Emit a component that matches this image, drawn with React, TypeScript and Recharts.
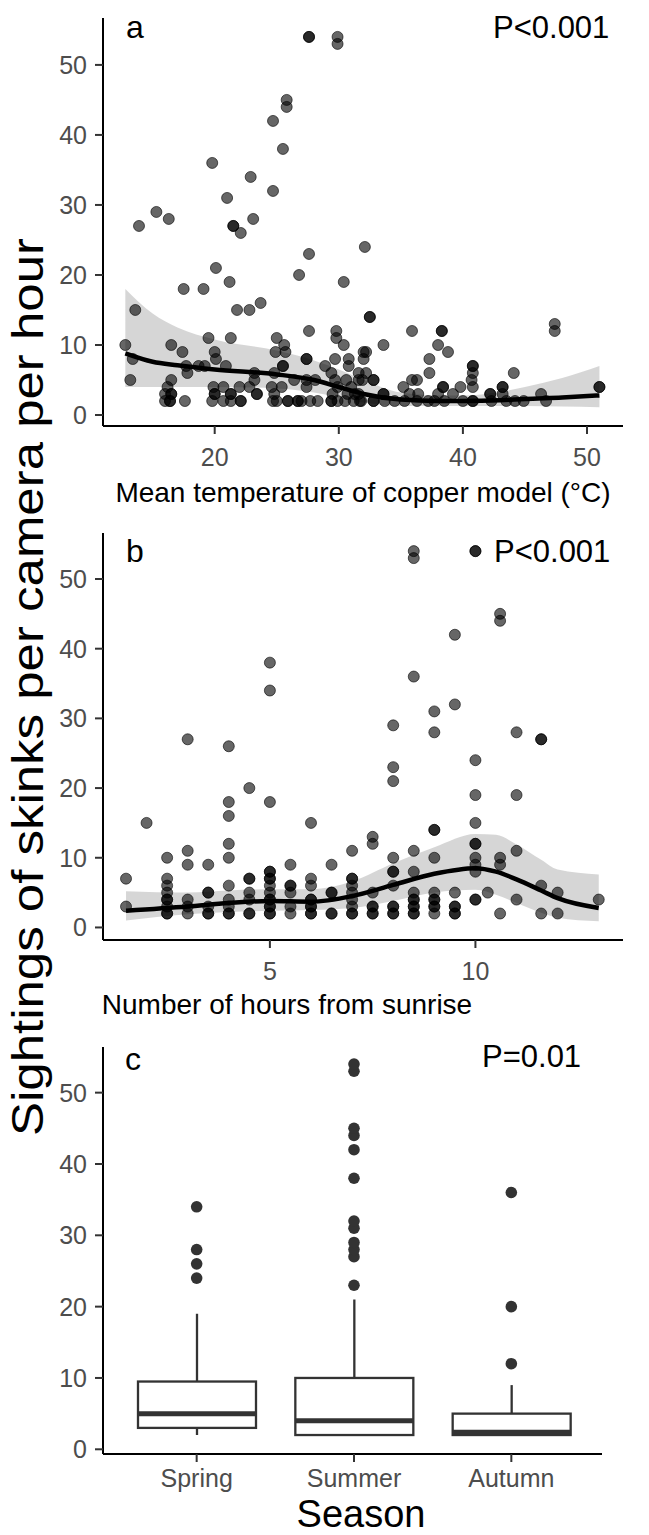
import * as React from "react"
import { ComposedChart, Scatter, Line, Area, Bar, XAxis, YAxis } from "recharts"

const FONT = "'Liberation Sans', Arial, Helvetica, sans-serif"

// panel a: sightings against copper model temperature
const tempPoints: [number, number][] = [
  [27.6, 54], [27.6, 54], [29.9, 54], [29.9, 53], [25.8, 45], [25.8, 44], [24.7, 42], [25.5, 38],
  [19.8, 36], [22.9, 34], [24.7, 32], [21.0, 31], [15.3, 29], [16.3, 28], [23.1, 28], [13.9, 27],
  [21.5, 27], [21.5, 27], [22.1, 26], [32.1, 24], [27.6, 23], [20.1, 21], [26.8, 20], [30.4, 19],
  [21.2, 19], [17.5, 18], [19.1, 18], [23.7, 16], [13.6, 15], [21.8, 15], [22.8, 15], [32.5, 14],
  [32.5, 14], [47.4, 13], [47.4, 12], [35.9, 12], [38.3, 12], [38.3, 12], [27.6, 12], [29.8, 12],
  [19.5, 11], [21.3, 11], [25.0, 11], [29.8, 11],
  [12.8, 10], [16.5, 10], [25.6, 10], [30.4, 10], [33.6, 10], [38.0, 10],
  [17.4, 9], [20.0, 9], [24.9, 9], [25.7, 9], [32.0, 9], [32.2, 9], [38.8, 9],
  [13.4, 8], [20.1, 8], [27.4, 8], [27.4, 8], [29.7, 8], [30.8, 8], [32.0, 8], [37.3, 8],
  [17.7, 7], [18.7, 7], [19.2, 7], [20.9, 7], [25.5, 7], [25.5, 7], [28.9, 7], [30.8, 7], [40.8, 7], [40.8, 7],
  [17.8, 6], [23.2, 6], [24.8, 6], [29.4, 6], [31.6, 6], [32.2, 6], [37.3, 6], [40.8, 6], [44.1, 6],
  [13.2, 5], [16.5, 5], [23.2, 5], [26.4, 5], [27.4, 5], [28.1, 5], [29.7, 5], [30.6, 5], [31.6, 5],
  [31.9, 5], [32.8, 5], [32.8, 5], [35.9, 5], [36.3, 5], [40.7, 5],
  [16.2, 4], [19.9, 4], [20.7, 4], [22.0, 4], [22.8, 4], [24.6, 4], [25.4, 4], [27.4, 4], [29.9, 4],
  [31.0, 4], [35.2, 4], [38.4, 4], [38.4, 4], [39.8, 4], [40.8, 4], [43.2, 4], [43.2, 4], [51.0, 4], [51.0, 4],
  [16.0, 3], [16.5, 3], [16.5, 3], [20.0, 3], [20.0, 3], [21.3, 3], [21.3, 3], [23.4, 3], [23.4, 3],
  [24.8, 3], [29.5, 3], [30.7, 3], [31.6, 3], [31.3, 3], [33.6, 3], [33.6, 3], [35.7, 3], [36.4, 3],
  [38.0, 3], [39.2, 3], [42.2, 3], [42.2, 3], [43.2, 3], [46.3, 3],
  [16.0, 2], [16.4, 2], [16.4, 2], [17.6, 2], [19.8, 2], [20.7, 2], [21.3, 2], [22.1, 2], [22.1, 2],
  [24.7, 2], [25.0, 2], [25.9, 2], [25.9, 2], [26.7, 2], [26.7, 2], [27.0, 2], [27.7, 2], [28.3, 2],
  [29.4, 2], [29.4, 2], [29.9, 2], [30.5, 2], [31.2, 2], [31.8, 2], [31.7, 2], [32.8, 2], [32.8, 2],
  [33.7, 2], [34.5, 2], [35.3, 2], [36.3, 2], [37.2, 2], [37.7, 2], [38.5, 2], [40.0, 2], [40.8, 2],
  [40.8, 2], [42.3, 2], [43.5, 2], [44.2, 2], [44.9, 2], [46.7, 2],
]
const tempFitX = [12.8, 15, 17, 20, 25, 28, 30, 32, 35, 38, 40, 43, 45, 48, 51]
const tempFit = [8.8, 7.6, 7.1, 6.5, 5.8, 5.0, 4.0, 3.0, 2.2, 2.0, 2.0, 2.1, 2.3, 2.5, 2.8]
const tempUpper = [18, 14.5, 12.5, 10.8, 9.2, 7.8, 6.5, 5.0, 3.2, 2.8, 2.8, 3.3, 4.0, 5.3, 7.0]
const tempLower = [4.0, 4.0, 4.0, 4.0, 3.8, 3.2, 2.5, 1.8, 1.3, 1.3, 1.3, 1.3, 1.3, 1.2, 1.1]
const tempTicks = [20, 30, 40, 50]

// panel b: sightings against hours from sunrise
const hourPoints: [number, number[]][] = [
  [1.5, [7, 3]],
  [2.0, [15]],
  [2.5, [10, 7, 6, 5, 4, 4, 3, 2, 2]],
  [3.0, [27, 11, 9, 4, 3, 2]],
  [3.5, [9, 5, 5, 3, 2, 2]],
  [4.0, [26, 18, 16, 12, 10, 6, 4, 3, 2, 2]],
  [4.5, [20, 7, 7, 5, 4, 2, 2]],
  [5.0, [38, 34, 18, 8, 8, 7, 7, 6, 5, 4, 4, 3, 3, 2, 2]],
  [5.5, [9, 6, 6, 5, 3, 2]],
  [6.0, [15, 7, 6, 4, 4, 3, 3, 2, 2]],
  [6.5, [9, 5, 5, 2, 2]],
  [7.0, [11, 7, 7, 6, 5, 4, 3, 2, 2]],
  [7.5, [13, 12, 5, 3, 3, 2, 2]],
  [8.0, [29, 23, 21, 10, 8, 8, 6, 3, 3, 2, 2]],
  [8.5, [54, 53, 36, 11, 8, 5, 4, 4, 3, 3, 2, 2]],
  [9.0, [31, 28, 14, 14, 10, 5, 4, 4, 3, 3, 2]],
  [9.5, [42, 32, 5, 3, 3, 2, 2]],
  [10.0, [54, 54, 24, 19, 15, 12, 12, 10, 9, 8, 4, 4]],
  [10.3, [5]],
  [10.6, [45, 44, 10, 9, 2]],
  [11.0, [28, 19, 11, 4]],
  [11.6, [27, 27, 6, 2]],
  [12.0, [5, 2]],
  [13.0, [4]],
]
const hourFitX = [1.5, 3, 4, 5, 6, 7, 8, 9, 10, 10.5, 11, 11.6, 12, 13]
const hourFit = [2.4, 3.0, 3.5, 3.8, 3.7, 4.5, 6.1, 7.7, 8.5, 8.0, 6.9, 5.3, 4.2, 2.8]
const hourUpper = [5.2, 5.0, 5.3, 5.5, 5.5, 6.6, 9.2, 11.5, 13.4, 13.3, 11.9, 9.7, 8.3, 7.6]
const hourLower = [1.0, 1.9, 2.2, 2.4, 2.5, 2.8, 3.8, 5.0, 5.4, 4.7, 3.5, 2.1, 1.4, 0.9]
const hourTicks = [5, 10]

// panel c: sightings by season
const seasons = ["Spring", "Summer", "Autumn"]
const whiskerLow = [2, 2, 2]
const quartile1 = [3, 2, 2]
const medians = [5, 4, 2.4]
const quartile3 = [9.5, 10, 5]
const whiskerHigh = [19, 21, 9]
const outliers = [
  [24, 26, 28, 34],
  [23, 27, 28, 29, 31, 32, 38, 42, 44, 45, 53, 54],
  [12, 20, 36],
]

const yTicks = [0, 10, 20, 30, 40, 50]

const tempData = tempPoints.map(([x, y]) => ({ x, y }))
const tempSmooth = tempFitX.map((x, i) => ({ x, fit: tempFit[i], band: [tempLower[i], tempUpper[i]] }))
const hourData = hourPoints.flatMap(([x, ys]) => ys.map((y) => ({ x, y })))
const hourSmooth = hourFitX.map((x, i) => ({ x, fit: hourFit[i], band: [hourLower[i], hourUpper[i]] }))
const boxData = seasons.map((season, i) => ({
  season,
  range: [whiskerLow[i], whiskerHigh[i]],
  q1: quartile1[i],
  median: medians[i],
  q3: quartile3[i],
}))
const outlierData = seasons.flatMap((season, i) => outliers[i].map((v) => ({ season, v })))

const tickStyle = { fill: "#4d4d4d", fontSize: 25, fontFamily: FONT }
const axisLine = { stroke: "#000", strokeWidth: 2 }
const tickLine = { stroke: "#333", strokeWidth: 2 }

const SkinkDot = (p: any) => (
  <circle cx={p.cx} cy={p.cy} r={5.5} fill="#000" fillOpacity={0.6} stroke="#000" strokeOpacity={0.6} strokeWidth={1} />
)

const OutlierDot = (p: any) => <circle cx={p.cx} cy={p.cy} r={5.8} fill="#333" />

// draws whisker, box and median from the bar spanning the whiskers
const BoxShape = (p: any) => {
  const { x, y, width, height, payload } = p
  const top = Math.min(y, y + height)
  const bottom = Math.max(y, y + height)
  const [lo, hi] = payload.range
  const pix = (v: number) => bottom - ((bottom - top) * (v - lo)) / (hi - lo)
  const cx = x + width / 2
  return (
    <g>
      <line x1={cx} x2={cx} y1={pix(lo)} y2={pix(hi)} stroke="#333" strokeWidth={2.3} />
      <rect x={x} y={pix(payload.q3)} width={width} height={pix(payload.q1) - pix(payload.q3)} fill="#fff" stroke="#333" strokeWidth={2.3} />
      <line x1={x} x2={x + width} y1={pix(payload.median)} y2={pix(payload.median)} stroke="#333" strokeWidth={5} />
    </g>
  )
}

function SmoothPanel({ points, smooth, xDomain, xTicks, yDomain, top, marginTop, height, marginBottom }: any) {
  return (
    <div style={{ position: "absolute", left: 0, top }}>
      <ComposedChart
        width={649}
        height={height}
        data={smooth}
        margin={{ top: marginTop, right: 26, bottom: marginBottom, left: 53 }}
      >
        <XAxis
          type="number"
          dataKey="x"
          domain={xDomain}
          ticks={xTicks}
          allowDataOverflow
          height={40}
          tick={tickStyle}
          tickSize={8}
          tickMargin={14}
          axisLine={axisLine}
          tickLine={tickLine}
        />
        <YAxis
          type="number"
          domain={yDomain}
          ticks={yTicks}
          allowDataOverflow
          width={50}
          tick={tickStyle}
          tickSize={8}
          tickMargin={8}
          axisLine={axisLine}
          tickLine={tickLine}
        />
        <Area
          type="monotone"
          dataKey="band"
          stroke="none"
          fill="#999"
          fillOpacity={0.4}
          isAnimationActive={false}
        />
        <Scatter data={points} dataKey="y" shape={SkinkDot} isAnimationActive={false} />
        <Line
          type="monotone"
          dataKey="fit"
          stroke="#000"
          strokeWidth={4.5}
          dot={false}
          isAnimationActive={false}
        />
      </ComposedChart>
    </div>
  )
}

function SeasonPanel() {
  return (
    <div style={{ position: "absolute", left: 0, top: 1020 }}>
      <ComposedChart
        width={649}
        height={500}
        data={boxData}
        margin={{ top: 27, right: 47, bottom: 26, left: 53 }}
      >
        <XAxis
          type="category"
          dataKey="season"
          allowDuplicatedCategory={false}
          padding={{ left: 15, right: 12 }}
          height={40}
          tick={tickStyle}
          tickSize={8}
          tickMargin={7}
          axisLine={axisLine}
          tickLine={tickLine}
        />
        <YAxis
          type="number"
          domain={[-0.66, 56.4]}
          ticks={yTicks}
          allowDataOverflow
          width={50}
          tick={tickStyle}
          tickSize={8}
          tickMargin={8}
          axisLine={axisLine}
          tickLine={tickLine}
        />
        <Bar dataKey="range" barSize={118} shape={BoxShape} isAnimationActive={false} />
        <Scatter data={outlierData} dataKey="v" shape={OutlierDot} isAnimationActive={false} />
      </ComposedChart>
    </div>
  )
}

export default function App() {
  return (
    <div style={{ position: "absolute", left: 0, top: 0, width: 649, height: 1535, background: "#fff", fontFamily: FONT }}>
      <SmoothPanel
        points={tempData}
        smooth={tempSmooth}
        xDomain={[11.0, 52.9]}
        xTicks={tempTicks}
        yDomain={[-1.57, 56.7]}
        top={0}
        marginTop={18}
        height={490}
        marginBottom={24}
      />
      <SmoothPanel
        points={hourData}
        smooth={hourSmooth}
        xDomain={[0.94, 13.59]}
        xTicks={hourTicks}
        yDomain={[-1.8, 56.6]}
        top={500}
        marginTop={33}
        height={500}
        marginBottom={20}
      />
      <SeasonPanel />
      <svg width={649} height={1535} style={{ position: "absolute", left: 0, top: 0, pointerEvents: "none" }} fontFamily={FONT}>
        <text x={126} y={38} fontSize={32}>a</text>
        <text x={493} y={38} fontSize={31}>P&lt;0.001</text>
        <text x={363} y={502} fontSize={28} textAnchor="middle">Mean temperature of copper model (°C)</text>
        <text x={126} y={562} fontSize={32}>b</text>
        <text x={494} y={562} fontSize={31}>P&lt;0.001</text>
        <text x={287} y={1014} fontSize={28} textAnchor="middle">Number of hours from sunrise</text>
        <text x={125} y={1070} fontSize={32}>c</text>
        <text x={482} y={1067} fontSize={31}>P=0.01</text>
        <text x={361} y={1527} fontSize={38} textAnchor="middle">Season</text>
        <text
          transform="translate(43 687) rotate(-90)"
          fontSize={44}
          textAnchor="middle"
          textLength={898}
          lengthAdjust="spacingAndGlyphs"
        >
          Sightings of skinks per camera per hour
        </text>
      </svg>
    </div>
  )
}
